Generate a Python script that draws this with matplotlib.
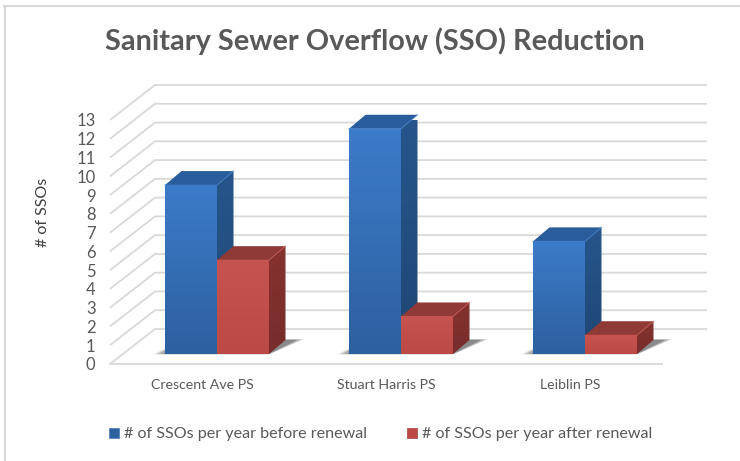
import numpy as np
import matplotlib
matplotlib.use("Agg")
import matplotlib.pyplot as plt
from matplotlib.patches import Polygon, Patch
from matplotlib.lines import Line2D

categories = ["Crescent Ave PS", "Stuart Harris PS", "Leiblin PS"]
before = [9, 12, 6]
after = [5, 2, 1]
series_names = ["# of SSOs per year before renewal", "# of SSOs per year after renewal"]
yticks = list(range(0, 14))

W, H = 740, 461
plt.rcParams["font.family"] = ["Lato", "DejaVu Sans"]
fig = plt.figure(figsize=(W / 100, H / 100), dpi=100, facecolor="white")
L, R, B, T = 110, 662, 364, 120
ax = fig.add_axes([L / W, 1 - B / H, (R - L) / W, (B - T) / H])
ax.set_xlim(-0.5, 2.5)
ax.set_ylim(0, 13)
ax.patch.set_alpha(0)
for s in ax.spines.values():
    s.set_visible(False)

px = 3 / (R - L)          # category units per pixel
py = 13 / (B - T)         # value units per pixel

GRID = "#d9d9d9"
TEXT = "#595959"
back_dx, back_dy = 45 * px, 35 * py
for v in yticks:
    x0, x1 = ax.get_xlim()
    ax.plot([x0, x0 + back_dx, x1 + back_dx], [v, v + back_dy, v + back_dy],
            color=GRID, lw=1.3, clip_on=False, zorder=1, solid_capstyle="butt")
ax.plot(ax.get_xlim(), [0, 0], color=GRID, lw=1.3, clip_on=False, zorder=1)

floor_dx, floor_dy = 15 * px, 10 * py
bar_w = 52 * px
dep_x, dep_y = 16.5 * px, 14 * py


def gradient_face(verts, top, bottom, z):
    poly = Polygon(verts, closed=True, fc="none", ec="none", clip_on=False,
                   transform=ax.transData)
    ax.add_patch(poly)
    c0, c1 = np.array(matplotlib.colors.to_rgb(top)), np.array(matplotlib.colors.to_rgb(bottom))
    g = np.linspace(0, 1, 64)[:, None, None]
    img = c0 * (1 - g) + c1 * g
    xs, ys = zip(*verts)
    im = ax.imshow(img, extent=(min(xs), max(xs), min(ys), max(ys)), aspect="auto",
                   origin="upper", zorder=z, clip_on=True)
    im.set_clip_path(poly)


def draw_bar(x, v, front, side, top, z):
    a, b = x, x + bar_w
    y0, y1 = floor_dy, floor_dy + v
    gradient_face([(a, y0), (b, y0), (b, y1), (a, y1)], front[0], front[1], z + 0.2)
    gradient_face([(b, y0), (b + dep_x, y0 + dep_y), (b + dep_x, y1 + dep_y), (b, y1)], side[0], side[1], z)
    ax.add_patch(Polygon([(a, y1), (b, y1), (b + dep_x, y1 + dep_y), (a + dep_x, y1 + dep_y)],
                         closed=True, fc=top, ec="none", zorder=z + 0.1, clip_on=False))
    ax.plot([a, b, b + dep_x], [y1, y1, y1 + dep_y], color=front[0], lw=0.8, alpha=0.7,
            zorder=z + 0.3, clip_on=False)


def draw_shadow(x, z):
    a, b = x, x + 2 * bar_w
    y0 = floor_dy
    for grow in np.linspace(9, 0, 10):
        gx, gy = grow * px, grow * py * 0.35
        ax.add_patch(Polygon([(a - gx * 1.3, y0 - gy * 0.1), (b, y0 - gy * 0.1),
                              (b + dep_x + 10 * px + gx, y0 + dep_y + gy * 0.3),
                              (a + dep_x, y0 + dep_y)],
                             closed=True, fc="#404040", ec="none", alpha=0.085,
                             zorder=z, clip_on=False))


BLUE = (("#3c7bc9", "#2d609f"), ("#27568c", "#1f4674"), "#2a5d9b")
RED = (("#c5534f", "#bb4a46"), ("#85322f", "#772d2b"), "#8f3a37")
for i in range(len(categories)):
    x = i - bar_w + floor_dx
    z = 3 + i
    draw_shadow(x, 2)
    draw_bar(x, before[i], *BLUE, z)
    draw_bar(x + bar_w, after[i], *RED, z + 0.5)

ax.set_xlim(-0.5, 2.5)
ax.set_ylim(0, 13)
ax.set_xticks(range(len(categories)), categories)
ax.set_yticks(yticks, [str(v) for v in yticks])
ax.tick_params(axis="x", length=0, pad=10.5, labelsize=10.2, labelcolor=TEXT)
ax.tick_params(axis="y", length=0, pad=10.5, labelsize=12, labelcolor=TEXT)
ax.set_ylabel("# of SSOs", fontsize=11.5, color="#404040")
ax.yaxis.set_label_coords((50 - L) / (R - L), (B - 212) / (B - T))

fig.text(375 / W, 1 - 41 / H, "Sanitary Sewer Overflow (SSO) Reduction", ha="center", va="center",
         fontsize=20.8, fontweight="bold", color="#595959")

handles = [Line2D([], [], ls="none", marker="s", ms=7, mfc=BLUE[0][1], mec="#4a7fb8", mew=0.5),
           Line2D([], [], ls="none", marker="s", ms=7, mfc=RED[0][1], mec="#a04040", mew=0.5)]
fig.legend(handles, series_names, loc="center", bbox_to_anchor=(379 / W, 1 - 434 / H), ncols=2,
           frameon=False, fontsize=11.6, labelcolor=TEXT, handletextpad=0.1, columnspacing=2.3,
           handlelength=1.0)

# screenshot frame
frame = "#d9d9d9"
fig.add_artist(Line2D([4.5 / W, 4.5 / W], [0, 1 - 6 / H], color=frame, lw=1.5, transform=fig.transFigure))
fig.add_artist(Line2D([4 / W, 1], [1 - 6 / H, 1 - 6 / H], color=frame, lw=1.5, transform=fig.transFigure))

fig.savefig("out.png", dpi=100)
